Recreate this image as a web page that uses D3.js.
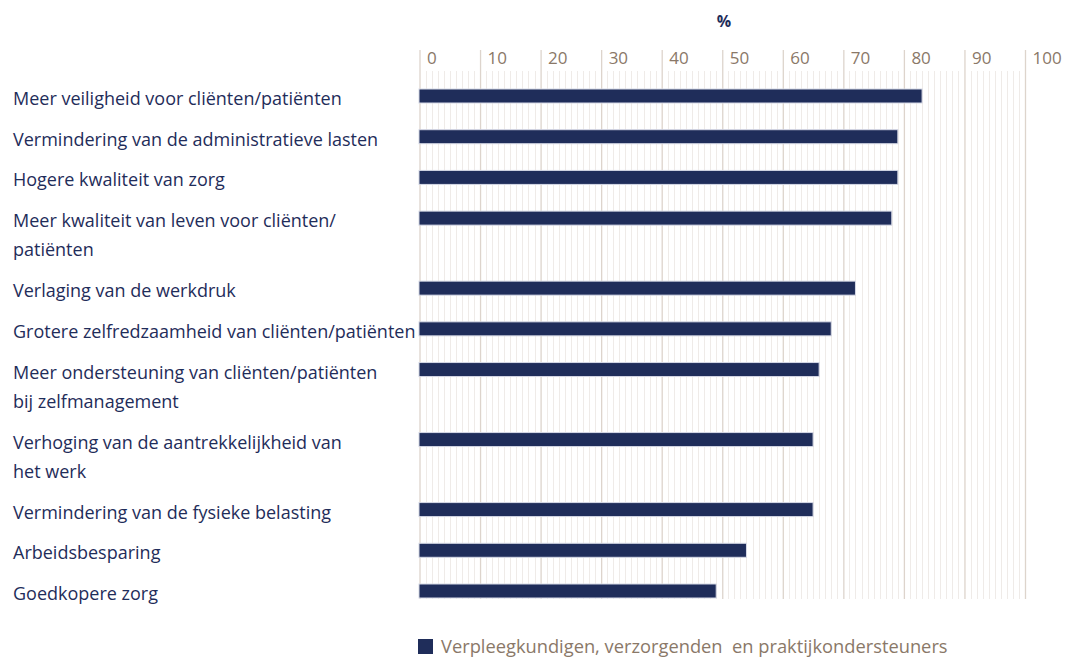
<!DOCTYPE html>
<html>
<head>
<meta charset="utf-8">
<script src="https://cdn.jsdelivr.net/npm/d3@7"></script>
<style>
  html, body { margin: 0; padding: 0; background: #fff; }
  svg { display: block; font-family: "Open Sans", "Noto Sans", sans-serif; }
</style>
</head>
<body>
<svg id="chart" width="1078" height="657"></svg>
<script>
const categories = [
  "Meer veiligheid voor cliënten/patiënten",
  "Vermindering van de administratieve lasten",
  "Hogere kwaliteit van zorg",
  "Meer kwaliteit van leven voor cliënten/\npatiënten",
  "Verlaging van de werkdruk",
  "Grotere zelfredzaamheid van cliënten/patiënten",
  "Meer ondersteuning van cliënten/patiënten\nbij zelfmanagement",
  "Verhoging van de aantrekkelijkheid van\nhet werk",
  "Vermindering van de fysieke belasting",
  "Arbeidsbesparing",
  "Goedkopere zorg"
];
const values = [83, 79, 79, 78, 72, 68, 66, 65, 65, 54, 49];
const tickValues = [0, 10, 20, 30, 40, 50, 60, 70, 80, 90, 100];
const axisTitle = "%";
const seriesName = "Verpleegkundigen, verzorgenden  en praktijkondersteuners";

const navy = "#1f2d5a";
const tickColor = "#8a7868";
const svg = d3.select("#chart");

// row positions: a two-line label adds extra room after its row
const extra = 0.72;
const rowPos = [];
let acc = 0;
categories.forEach((c, i) => {
  rowPos.push(acc);
  acc += 1 + (c.includes("\n") ? extra : 0);
});
const data = categories.map((c, i) => ({ cat: c, lines: c.split("\n"), value: values[i], pos: rowPos[i] }));

const x = d3.scaleLinear().domain([0, 100]).range([419.5, 1025]);
const y = d3.scaleLinear().domain([0, rowPos[rowPos.length - 1]]).range([96, 591]);
const barH = 14;
const plotBottom = 599;

// minor gridlines
const minor = d3.range(1, 100).filter(v => v % 10 !== 0);
svg.append("g").selectAll("line").data(minor).join("line")
  .attr("x1", d => Math.round(x(d)) + 0.5).attr("x2", d => Math.round(x(d)) + 0.5)
  .attr("y1", 71).attr("y2", plotBottom)
  .attr("stroke", "#efebe8").attr("stroke-width", 1);

// major gridlines (axis)
const axis = d3.axisTop(x).tickValues(tickValues).tickSize(0).tickFormat(d3.format("d"));
const gAxis = svg.append("g").attr("transform", "translate(0,0)").call(axis);
gAxis.select(".domain").remove();
gAxis.selectAll(".tick line")
  .attr("y1", 50).attr("y2", plotBottom)
  .attr("stroke", "#ddd4cc").attr("stroke-width", 1.3);
gAxis.selectAll(".tick text")
  .attr("x", 7).attr("y", 64).attr("dy", null)
  .attr("text-anchor", "start")
  .attr("fill", tickColor)
  .style("font-size", "17px")
  .style("font-family", "'Open Sans', sans-serif");

// axis title
svg.append("text").attr("x", 724).attr("y", 27)
  .attr("text-anchor", "middle").attr("fill", navy)
  .style("font-size", "16px").style("font-weight", "bold")
  .text(axisTitle);

// bars
svg.append("g").selectAll("rect").data(data).join("rect")
  .attr("x", x(0) - 0.5)
  .attr("y", d => y(d.pos) - barH / 2)
  .attr("width", d => x(d.value) - x(0) + 0.5)
  .attr("height", barH)
  .attr("fill", navy)
  .attr("stroke", "#d6d9e6").attr("stroke-width", 1);

// category labels
const lab = svg.append("g").selectAll("text").data(data).join("text")
  .attr("x", 13)
  .attr("y", d => y(d.pos) + 9)
  .attr("fill", navy)
  .style("font-size", "18px");
lab.selectAll("tspan").data(d => d.lines).join("tspan")
  .attr("x", 13)
  .attr("dy", (d, i) => i === 0 ? 0 : 29)
  .text(d => d);

// legend
svg.append("rect").attr("x", 418).attr("y", 639).attr("width", 15).attr("height", 15).attr("fill", navy);
svg.append("text").attr("x", 441).attr("y", 653)
  .attr("fill", tickColor)
  .style("font-size", "18.3px")
  .style("white-space", "pre")
  .text(seriesName);
</script>
</body>
</html>
